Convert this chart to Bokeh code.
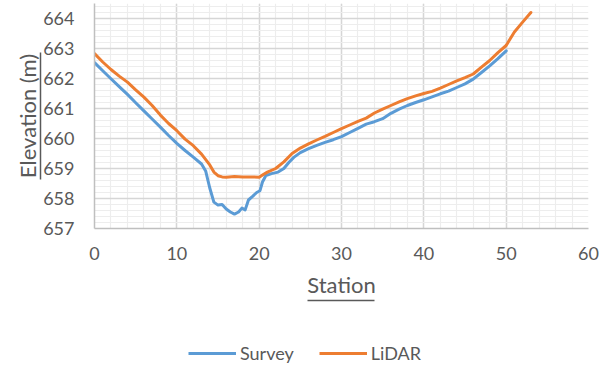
from bokeh.plotting import figure
from bokeh.layouts import column
from bokeh.models import (Range1d, SingleIntervalTicker, FixedTicker, LinearAxis, Legend)
from bokeh.embed import file_html
from bokeh.resources import INLINE

# ---- data ----
survey_station = [0, 1, 2, 3, 4, 5, 6, 7, 8, 9, 10, 11, 12, 13, 13.5, 14, 14.5, 15, 15.5,
                  16, 16.5, 17, 17.5, 17.9, 18.3, 18.7, 19.2, 19.7, 20.1, 20.4, 20.8, 21.5,
                  22.3, 23, 23.6, 24.2, 25, 26, 27, 28, 29, 30, 31, 32, 33, 34, 35, 36, 37,
                  38, 39, 40, 41, 42, 43, 44, 45, 46, 47, 48, 49, 50]
survey_elev = [662.53, 662.26, 661.99, 661.73, 661.47, 661.19, 660.92, 660.65, 660.38, 660.10,
               659.84, 659.60, 659.38, 659.15, 658.92, 658.35, 657.88, 657.78, 657.80,
               657.65, 657.55, 657.48, 657.55, 657.68, 657.62, 657.95, 658.07, 658.20,
               658.26, 658.55, 658.76, 658.83, 658.88, 659.00, 659.20, 659.37, 659.53,
               659.66, 659.77, 659.87, 659.96, 660.06, 660.20, 660.34, 660.48, 660.56,
               660.66, 660.84, 660.98, 661.10, 661.20, 661.29, 661.39, 661.49, 661.58,
               661.70, 661.82, 661.98, 662.20, 662.42, 662.66, 662.92]

lidar_station = [0, 1, 2, 3, 4, 5, 6, 7, 8, 9, 10, 11, 12, 13, 14, 14.5, 15, 15.5, 16, 17,
                 18, 19, 20, 20.5, 21, 22, 23, 24, 25, 26, 27, 28, 29, 30, 31, 32, 33, 34,
                 35, 36, 37, 38, 39, 40, 41, 42, 43, 44, 45, 46, 47, 48, 49, 50, 51, 52, 53]
lidar_elev = [662.83, 662.55, 662.30, 662.08, 661.88, 661.62, 661.38, 661.10, 660.78, 660.50,
              660.26, 659.98, 659.76, 659.48, 659.12, 658.88, 658.76, 658.72, 658.71, 658.73,
              658.72, 658.72, 658.71, 658.80, 658.88, 659.00, 659.22, 659.50, 659.68,
              659.82, 659.95, 660.07, 660.20, 660.33, 660.45, 660.57, 660.68, 660.85,
              660.98, 661.10, 661.22, 661.33, 661.42, 661.50, 661.57, 661.68, 661.80,
              661.92, 662.03, 662.15, 662.38, 662.60, 662.86, 663.10, 663.55, 663.88, 664.20]

x_title = "Station"
y_title = "Elevation (m)"
series_names = ["Survey", "LiDAR"]
colors = ["#5B9BD5", "#ED7D31"]

FONT = "Lato"
TXT = "#595959"

p = figure(width=600, height=320, output_backend="svg", toolbar_location=None,
           x_range=Range1d(0, 60), y_range=Range1d(657, 664.5),
           min_border_left=94, min_border_right=12, min_border_top=3, min_border_bottom=92)
p.outline_line_color = None

xticker = SingleIntervalTicker(interval=10, num_minor_ticks=5)
yticker = SingleIntervalTicker(interval=1, num_minor_ticks=5)

# main axes
main_x = p.xaxis[0]
main_y = p.yaxis[0]
main_x.ticker = xticker
main_y.ticker = yticker
for ax in (main_x, main_y):
    ax.axis_line_color = "#bfbfbf"
    ax.axis_line_width = 1.5
    ax.major_tick_line_color = None
    ax.minor_tick_line_color = None
    ax.major_tick_out = 0
    ax.minor_tick_out = 0
    ax.major_label_text_font = FONT
    ax.major_label_text_font_size = "18px"
    ax.major_label_text_color = TXT
main_y.major_label_standoff = 20
main_x.major_label_standoff = 18
main_x.axis_label = x_title
main_x.axis_label_standoff = 8
main_x.axis_label_text_font = FONT
main_x.axis_label_text_font_size = "22px"
main_x.axis_label_text_font_style = "normal"
main_x.axis_label_text_color = TXT

# grids (explicitly tied to the main axes and full ranges)
xg = p.xgrid[0]
yg = p.ygrid[0]
xg.axis = main_x
yg.axis = main_y
xg.ticker = xticker
yg.ticker = yticker
xg.bounds = (0, 60)
yg.bounds = (657, 664.5)
for g in (xg, yg):
    g.grid_line_color = "#d6d6d6"
    g.grid_line_width = 1.5
    g.minor_grid_line_color = "#ededed"
    g.minor_grid_line_width = 1.2


def bare_axis(line_color=None, bounds="auto", gap=0):
    return LinearAxis(ticker=FixedTicker(ticks=[]), bounds=bounds,
                      axis_line_color=line_color, axis_line_width=1.5,
                      major_tick_line_color=None, minor_tick_line_color=None,
                      major_tick_out=gap, minor_tick_out=0, major_tick_in=0, minor_tick_in=0,
                      major_label_standoff=0)


# underline below "Station"
p.add_layout(bare_axis(TXT, bounds=(25.9, 34.0)), "below")

# left: spacer, then title axis whose line acts as the underline
p.add_layout(bare_axis(None, gap=10), "left")
ytitle_axis = bare_axis(TXT, bounds=(658.65, 662.87))
ytitle_axis.axis_label = y_title
ytitle_axis.axis_label_standoff = 0
ytitle_axis.axis_label_text_font = FONT
ytitle_axis.axis_label_text_font_size = "22px"
ytitle_axis.axis_label_text_font_style = "normal"
ytitle_axis.axis_label_text_color = TXT
p.add_layout(ytitle_axis, "left")

p.line(survey_station, survey_elev, line_color=colors[0], line_width=3,
       line_join="round", line_cap="round")
p.line(lidar_station, lidar_elev, line_color=colors[1], line_width=3,
       line_join="round", line_cap="round")

# legend strip (separate figure below, series drawn out of view)
lf = figure(width=600, height=64, output_backend="svg", toolbar_location=None,
            x_range=Range1d(-200, -199), y_range=Range1d(0, 1),
            min_border=0, x_axis_type=None, y_axis_type=None)
lf.outline_line_color = None
lf.xgrid.visible = False
lf.ygrid.visible = False
l1 = lf.line(survey_station, survey_elev, line_color=colors[0], line_width=3)
l2 = lf.line(lidar_station, lidar_elev, line_color=colors[1], line_width=3)
legend = Legend(items=[(series_names[0], [l1]), (series_names[1], [l2])],
                orientation="horizontal", location=(94, 20),
                padding=0, margin=0, spacing=25, glyph_width=48, glyph_height=22,
                label_height=22, label_standoff=4,
                label_text_font=FONT, label_text_font_size="18px",
                label_text_color=TXT, border_line_color=None,
                background_fill_alpha=0)
lf.add_layout(legend, "center")

layout = column(p, lf, spacing=0)
open("out.html", "w").write(file_html(layout, INLINE))
